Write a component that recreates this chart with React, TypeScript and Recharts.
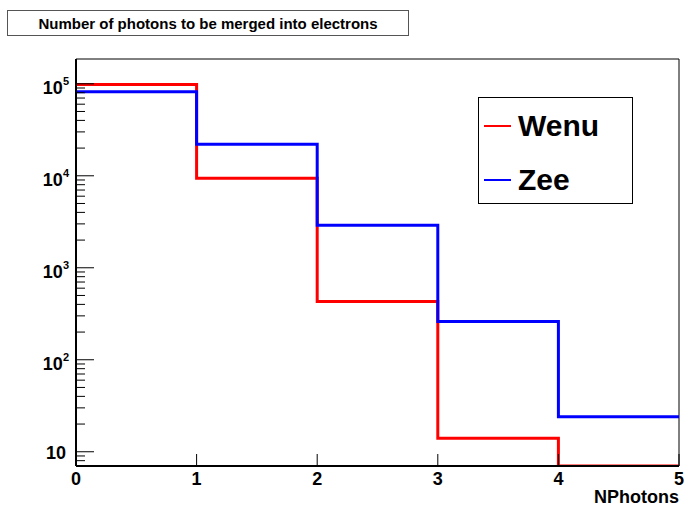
import React from 'react';
import {
  LineChart,
  Line,
  XAxis,
  YAxis,
  ReferenceArea,
} from 'recharts';

// bin lower edges (NPhotons) and counts per bin
const binEdges = [0, 1, 2, 3, 4, 5];
const wenuCounts = [98000, 9400, 430, 14, 0];
const zeeCounts = [82000, 22000, 2900, 260, 24];

const xTicks = [0, 1, 2, 3, 4, 5];
const decadeTicks = [10, 100, 1000, 10000, 100000];
const minorSteps = [2, 3, 4, 5, 6, 7, 8, 9];

const Y_MIN = 7;
const Y_MAX = 186000;
const FONT = '"Liberation Sans", Arial, Helvetica, sans-serif';

// empty bins sit on the bottom of the frame, as ROOT draws them
const clampLog = (v: number) => Math.max(v, Y_MIN);

// stepAfter needs the right edge repeated at x=5
const data = binEdges.map((x, i) => {
  const k = Math.min(i, wenuCounts.length - 1);
  return { x, wenu: clampLog(wenuCounts[k]), zee: clampLog(zeeCounts[k]) };
});

const yTicks = [
  8,
  9,
  ...decadeTicks.flatMap((d) => [d, ...minorSteps.map((m) => d * m)]),
].filter((v) => v >= Y_MIN && v <= Y_MAX);

const YTick = (props: any) => {
  const { x, y, payload } = props;
  const v = payload.value as number;
  const exp = Math.log10(v);
  const major = Math.abs(exp - Math.round(exp)) < 1e-9;
  return (
    <g>
      <line x1={x} x2={x + (major ? 18 : 9)} y1={y} y2={y} stroke="#000" strokeWidth={1} />
      {major && Math.round(exp) === 1 && (
        <text x={x - 10} y={y + 7} textAnchor="end" fontFamily={FONT} fontWeight="bold" fontSize={18} fill="#000">
          10
        </text>
      )}
      {major && Math.round(exp) > 1 && (
        <text x={x - 7} y={y + 10} textAnchor="end" fontFamily={FONT} fontWeight="bold" fontSize={18} fill="#000">
          10
          <tspan fontSize={11} dy={-9}>
            {Math.round(exp)}
          </tspan>
        </text>
      )}
    </g>
  );
};

const XTick = (props: any) => {
  const { x, y, payload } = props;
  return (
    <g>
      <line x1={x} x2={x} y1={y - 12} y2={y} stroke="#000" strokeWidth={1} />
      <text x={x} y={y + 19} textAnchor="middle" fontFamily={FONT} fontWeight="bold" fontSize={18} fill="#000">
        {payload.value}
      </text>
    </g>
  );
};

const legendItems = [
  { name: 'Wenu', color: '#ff0000' },
  { name: 'Zee', color: '#0000ff' },
];

const LegendBox = () => (
  <div
    style={{
      position: 'absolute',
      left: 478,
      top: 97,
      width: 155,
      height: 107,
      border: '1px solid #000',
      boxSizing: 'border-box',
      background: '#fff',
      fontFamily: FONT,
    }}
  >
    {legendItems.map((item, i) => (
      <div key={item.name} style={{ position: 'absolute', left: 5, top: 8 + i * 54, height: 40, display: 'flex', alignItems: 'center' }}>
        <div style={{ width: 27, height: 2, background: item.color }} />
        <span style={{ marginLeft: 7, fontSize: 30, fontWeight: 'bold', color: '#000', lineHeight: '40px' }}>
          {item.name}
        </span>
      </div>
    ))}
  </div>
);

export default function App() {
  return (
    <div style={{ position: 'absolute', left: 0, top: 0, width: 685, height: 507, overflow: 'hidden', background: '#fff' }}>
      <div
        style={{
          position: 'absolute',
          left: 7,
          top: 10,
          width: 402,
          height: 26,
          border: '1px solid #555',
          boxSizing: 'border-box',
          display: 'flex',
          alignItems: 'center',
          justifyContent: 'center',
          fontFamily: FONT,
          fontWeight: 'bold',
          fontSize: 15,
          color: '#000',
        }}
      >
        Number of photons to be merged into electrons
      </div>
      <LineChart width={685} height={507} data={data} margin={{ top: 59, right: 6, bottom: 6, left: 6 }}>
        <XAxis
          dataKey="x"
          type="number"
          domain={[0, 5]}
          ticks={xTicks}
          interval={0}
          tickSize={0}
          tickMargin={0}
          tickLine={false}
          tick={<XTick />}
          height={35}
          axisLine={{ stroke: '#000', strokeWidth: 2 }}
          label={(p: any) => (
            <text
              x={p.viewBox.x + p.viewBox.width}
              y={p.viewBox.y + 37}
              textAnchor="end"
              fontFamily={FONT}
              fontWeight="bold"
              fontSize={18}
              fill="#000"
            >
              NPhotons
            </text>
          )}
        />
        <YAxis
          scale="log"
          domain={[Y_MIN, Y_MAX]}
          allowDataOverflow
          ticks={yTicks}
          interval={0}
          width={70}
          tickSize={0}
          tickMargin={0}
          tickLine={false}
          tick={<YTick />}
          axisLine={{ stroke: '#000', strokeWidth: 2 }}
        />
        <ReferenceArea x1={0} x2={5} y1={Y_MIN} y2={Y_MAX} fill="none" stroke="#000" strokeWidth={1} ifOverflow="visible" />
        <Line type="stepAfter" dataKey="wenu" stroke="#ff0000" strokeWidth={3} dot={false} isAnimationActive={false} />
        <Line type="stepAfter" dataKey="zee" stroke="#0000ff" strokeWidth={3} dot={false} isAnimationActive={false} />
      </LineChart>
      <LegendBox />
    </div>
  );
}
